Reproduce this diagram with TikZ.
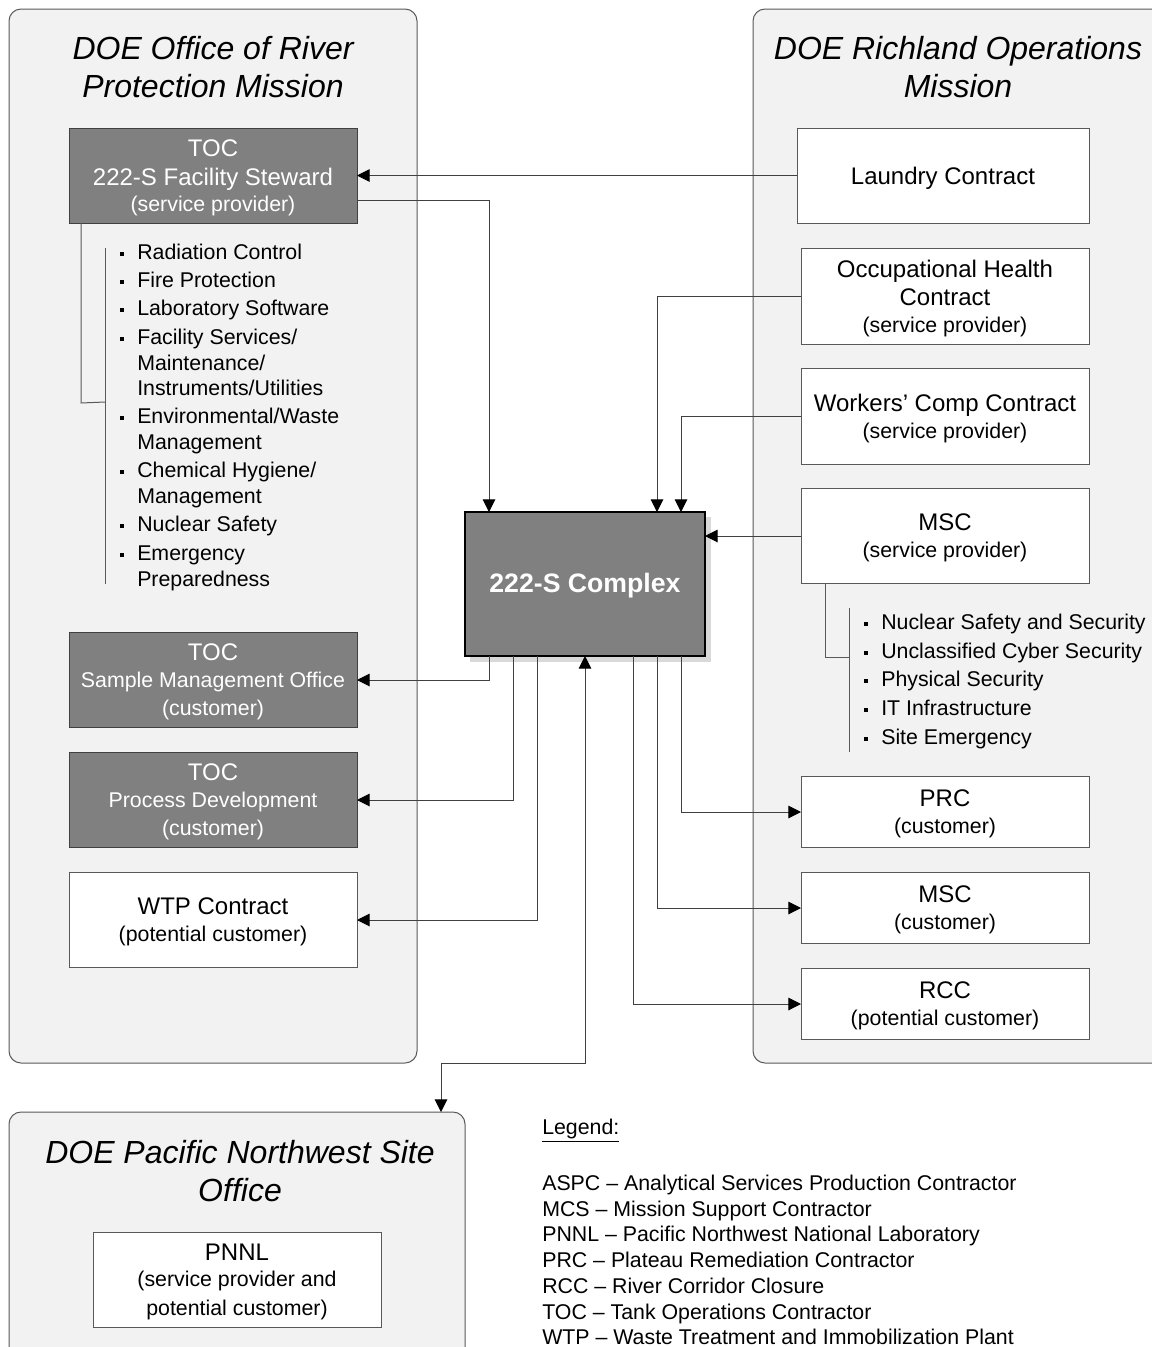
\documentclass[tikz,border=0pt]{standalone}
\usepackage{fontspec}
\setmainfont{Liberation Sans}
\usetikzlibrary{arrows.meta,fit}
\definecolor{bgray}{HTML}{F2F2F2}
\definecolor{dgray}{HTML}{808080}
\definecolor{edgecol}{HTML}{404040}
\definecolor{framecol}{HTML}{595959}
\definecolor{shadowcol}{HTML}{D9D9D9}
\newcommand\fsTitle{\fontsize{24}{28.5}\selectfont\itshape}
\newcommand\fsBig{\fontsize{18}{21.5}\selectfont}
\newcommand\fsSmall{\fontsize{16}{20}\selectfont}
\begin{document}
\begin{tikzpicture}[x=0.75pt,y=-0.75pt,
  mission/.style={draw=framecol, fill=bgray, rounded corners=9pt, line width=0.75pt, inner sep=0pt, outer sep=0pt},
  darkbox/.style={draw=edgecol, fill=dgray, inner sep=0pt, outer sep=0pt, line width=0.75pt},
  whitebox/.style={draw=framecol, fill=white, inner sep=0pt, outer sep=0pt, line width=0.75pt},
  darktext/.style={text=white, align=center, font=\fsBig, inner sep=0pt, yshift=-1.8pt},
  whitetext/.style={text=black, align=center, font=\fsBig, inner sep=0pt, yshift=-1.8pt},
  titletext/.style={align=center, font=\fsTitle, inner sep=0pt},
  item/.style={anchor=base west, inner sep=0pt, font=\fsSmall},
  conn/.style={draw=edgecol, line width=0.75pt, -{Triangle[length=9.5pt,width=9.5pt,color=black]}},
  conntwo/.style={draw=edgecol, line width=0.75pt, {Triangle[length=9.5pt,width=9.5pt,color=black]}-{Triangle[length=9.5pt,width=9.5pt,color=black]}},
  bracket/.style={draw=framecol, line width=0.75pt},
  bul/.style={fill=black}
]
\useasboundingbox (0,0) rectangle (1152,1347);
\clip (0,0) rectangle (1152,1347);

% mission containers
\node[mission, fit={(9,9)(417,1063)}] (orp) {};
\node[mission, fit={(753,9)(1165,1063)}] (rl) {};
\node[mission, fit={(9,1112)(465,1370)}] (pnso) {};

\node[titletext] (orpT) at (213,67) {DOE Office of River\\Protection Mission};
\node[titletext] (rlT) at (958,67) {DOE Richland Operations\\Mission};
\node[titletext] (pnsoT) at (240,1171) {DOE Pacific Northwest Site\\Office};

% helper coordinates
\coordinate (k1) at (489,200);
\coordinate (k2) at (657,296);
\coordinate (k3) at (681,416);
\coordinate (k4) at (705,536);
\coordinate (k5) at (489,680);
\coordinate (k6) at (513,800);
\coordinate (k7) at (537,920);
\coordinate (k8) at (585,1063);
\coordinate (k9) at (441,1063);
\coordinate (k10) at (681,812);
\coordinate (k11) at (657,908);
\coordinate (k12) at (633,1004);

% left boxes
\node[darkbox, fit={(69,128)(357,223)}] (toc1) {};
\node[darktext] (toc1t) at (toc1.center) {TOC\\222-S Facility Steward\\[-1.5pt]{\fsSmall (service provider)}};
\node[darkbox, fit={(69,632)(357,727)}] (sample) {};
\node[darktext] (samplet) at (sample.center) {TOC\\[-1.5pt]{\fsSmall Sample Management Office}\\{\fsSmall (customer)}};
\node[darkbox, fit={(69,752)(357,847)}] (procdev) {};
\node[darktext] (procdevt) at (procdev.center) {TOC\\[-1.5pt]{\fsSmall Process Development}\\{\fsSmall (customer)}};
\node[whitebox, fit={(69,872)(357,967)}] (wtp) {};
\node[whitetext] (wtpt) at (wtp.center) {WTP Contract\\[-1.5pt]{\fsSmall (potential customer)}};

% right boxes
\node[whitebox, fit={(797,128)(1089,223)}] (laundry) {};
\node[whitetext] (laundryt) at (laundry.center) {Laundry Contract};
\node[whitebox, fit={(801,248)(1089,344)}] (occ) {};
\node[whitetext] (occt) at (occ.center) {Occupational Health\\Contract\\[-1.5pt]{\fsSmall (service provider)}};
\node[whitebox, fit={(801,368)(1089,464)}] (workers) {};
\node[whitetext] (workerst) at (workers.center) {Workers’ Comp Contract\\[-1.5pt]{\fsSmall (service provider)}};
\node[whitebox, fit={(801,488)(1089,583)}] (msc1) {};
\node[whitetext] (msc1t) at (msc1.center) {MSC\\[-1.5pt]{\fsSmall (service provider)}};
\node[whitebox, fit={(801,776)(1089,847)}] (prc) {};
\node[whitetext] (prct) at (prc.center) {PRC\\[-1.5pt]{\fsSmall (customer)}};
\node[whitebox, fit={(801,872)(1089,943)}] (msc2) {};
\node[whitetext] (msc2t) at (msc2.center) {MSC\\[-1.5pt]{\fsSmall (customer)}};
\node[whitebox, fit={(801,968)(1089,1039)}] (rcc) {};
\node[whitetext] (rcct) at (rcc.center) {RCC\\[-1.5pt]{\fsSmall (potential customer)}};

% PNNL
\node[whitebox, fit={(93,1232)(381,1327)}] (pnnl) {};
\node[whitetext] (pnnlt) at (pnnl.center) {PNNL\\[-1.5pt]{\fsSmall (service provider and}\\{\fsSmall potential customer)}};

% central complex
\fill[shadowcol] (470,517) rectangle (711,662);
\node[draw=black, fill=dgray, line width=1.5pt, inner sep=0pt, outer sep=0pt,
      fit={(465,512)(705,656)}] (complex) {};
\node[text=white, inner sep=0pt, font=\fontsize{20}{24}\selectfont\bfseries, yshift=-1.5pt] (complext) at (complex.center) {222-S Complex};

% connectors
\draw[conn] (laundry.west) -- (laundry.west -| toc1.east);
\draw[conn] (toc1.east |- k1) -| (complex.north -| k1);
\draw[conn] (occ.west |- k2) -| (complex.north -| k2);
\draw[conn] (workers.west |- k3) -| (complex.north -| k3);
\draw[conn] (msc1.west |- k4) -- (complex.east |- k4);
\draw[conn] (complex.south -| k5) |- (sample.east |- k5);
\draw[conn] (complex.south -| k6) |- (procdev.east |- k6);
\draw[conn] (complex.south -| k7) |- (wtp.east |- k7);
\draw[conntwo] (complex.south -| k8) -- (k8) -- (k9) -- (pnso.north -| k9);
\draw[conn] (complex.south -| k10) |- (prc.west |- k10);
\draw[conn] (complex.south -| k11) |- (msc2.west |- k11);
\draw[conn] (complex.south -| k12) |- (rcc.west |- k12);

% left bullet list
\coordinate (lb1) at (81,403);
\coordinate (lb2) at (105,402);
\draw[bracket] (toc1.south -| lb1) -- (lb1) -- (lb2);
\draw[bracket] (105,248) -- (105,584);
\foreach \y in {252,280,308,337,416,470,524,553}{
  \fill[bul] (119.5,\y-0.5) rectangle (124,\y+4);
}
\node[item] (la1) at (137,259.5) {Radiation Control};
\node[item] (la2) at (137,287.5) {Fire Protection};
\node[item] (la3) at (137,315.5) {Laboratory Software};
\node[item] (la4) at (137,344.5) {Facility Services/};
\node[item] (la5) at (137,370) {Maintenance/};
\node[item] (la6) at (137,395.5) {Instruments/Utilities};
\node[item] (la7) at (137,423.5) {Environmental/Waste};
\node[item] (la8) at (137,449.5) {Management};
\node[item] (la9) at (137,477.5) {Chemical Hygiene/};
\node[item] (la10) at (137,503.5) {Management};
\node[item] (la11) at (137,531.5) {Nuclear Safety};
\node[item] (la12) at (137,560.5) {Emergency};
\node[item] (la13) at (137,586.5) {Preparedness};

% right bullet list
\coordinate (rb1) at (825,657);
\coordinate (rb2) at (849,657);
\draw[bracket] (msc1.south -| rb1) -- (rb1) -- (rb2);
\draw[bracket] (849,608) -- (849,752);
\foreach \y in {622,651,679,708,737}{
  \fill[bul] (863.5,\y-0.5) rectangle (868,\y+4);
}
\node[item] (ra1) at (881,629.5) {Nuclear Safety and Security};
\node[item] (ra2) at (881,658.5) {Unclassified Cyber Security};
\node[item] (ra3) at (881,686.5) {Physical Security};
\node[item] (ra4) at (881,715.5) {IT Infrastructure};
\node[item] (ra5) at (881,744.5) {Site Emergency};

% legend
\node[item] (lg0) at (542,1134.5) {\underline{Legend:}};
\node[item] (lg1) at (542,1190.5) {ASPC – Analytical Services Production Contractor};
\node[item] (lg2) at (542,1216.2) {MCS – Mission Support Contractor};
\node[item] (lg3) at (542,1241.9) {PNNL – Pacific Northwest National Laboratory};
\node[item] (lg4) at (542,1267.6) {PRC – Plateau Remediation Contractor};
\node[item] (lg5) at (542,1293.3) {RCC – River Corridor Closure};
\node[item] (lg6) at (542,1319) {TOC – Tank Operations Contractor};
\node[item] (lg7) at (542,1344.7) {WTP – Waste Treatment and Immobilization Plant};
\end{tikzpicture}
\end{document}
